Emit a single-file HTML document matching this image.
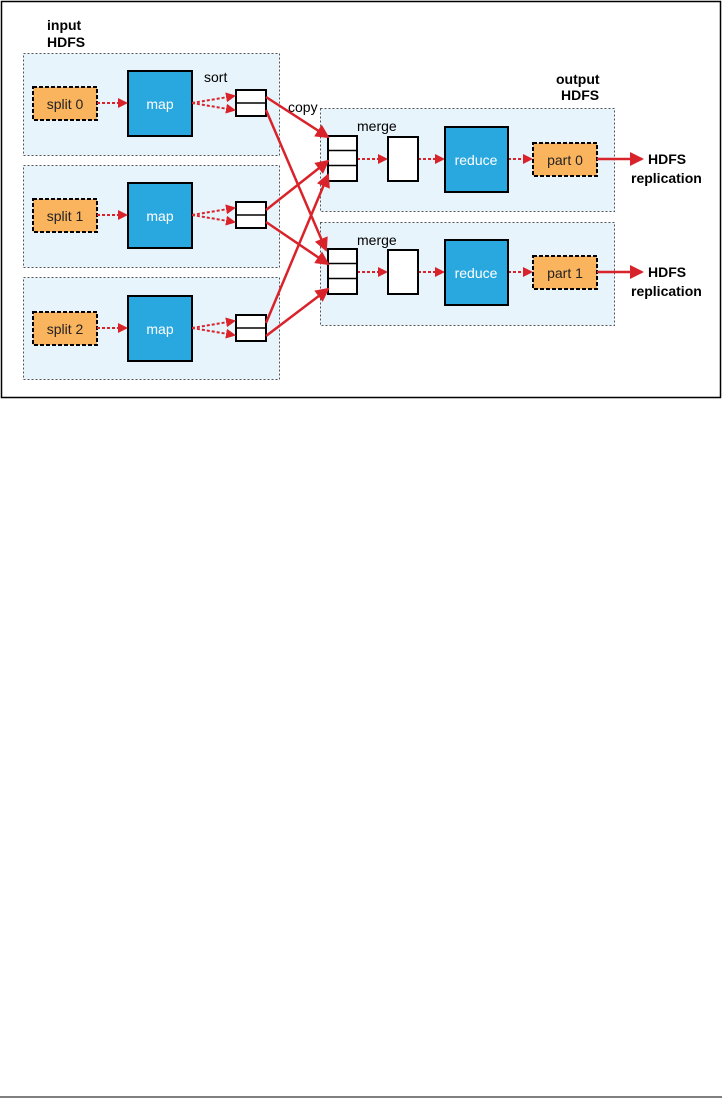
<!DOCTYPE html>
<html><head><style>
body{margin:0;background:#fff;width:722px;height:1106px;overflow:hidden}
svg text{font-family:"Liberation Sans",sans-serif}
</style></head><body>
<svg width="722" height="1106" viewBox="0 0 722 1106" xmlns="http://www.w3.org/2000/svg">
<defs>
<marker id="ah" markerWidth="10" markerHeight="10" refX="8" refY="5" orient="auto" markerUnits="userSpaceOnUse" viewBox="0 0 10 10"><path d="M0,0 L10,5 L0,10 z" fill="#d9232a"/></marker>
<marker id="ab" markerWidth="14" markerHeight="14" refX="12" refY="7" orient="auto" markerUnits="userSpaceOnUse" viewBox="0 0 14 14"><path d="M0,0 L14,7 L0,14 z" fill="#d9232a"/></marker>
</defs>
<rect x="1.5" y="1.5" width="719" height="396" fill="none" stroke="#000" stroke-width="1.5"/>
<line x1="0" y1="1097" x2="722" y2="1097" stroke="#000" stroke-width="1"/>
<g font-weight="bold" font-size="14" fill="#000">
<text x="47" y="30">input</text><text x="47" y="47">HDFS</text>
<text x="556" y="84">output</text><text x="561" y="100">HDFS</text>
</g>
<g fill="#e8f4fb" stroke="#555" stroke-dasharray="2,2" stroke-width="1">
<rect x="23.5" y="53.5" width="256" height="102"/>
<rect x="23.5" y="165.5" width="256" height="102"/>
<rect x="23.5" y="277.5" width="256" height="102"/>
<rect x="320.5" y="108.5" width="294" height="103"/>
<rect x="320.5" y="222.5" width="294" height="103"/>
</g>
<g font-size="14" fill="#000">
<text x="204" y="82">sort</text><text x="288" y="112">copy</text>
<text x="357" y="131">merge</text><text x="357" y="245">merge</text>
</g>
<!-- map rows -->
<g id="r0">
<rect x="33" y="87" width="64" height="33" fill="#fbb45e" stroke="#000" stroke-width="2" stroke-dasharray="4,2"/>
<text x="65" y="109" font-size="14" text-anchor="middle" fill="#222">split 0</text>
<rect x="128" y="71" width="64" height="65" fill="#29a8e0" stroke="#000" stroke-width="2"/>
<text x="160" y="109" font-size="14" text-anchor="middle" fill="#fff">map</text>
<rect x="236" y="90" width="30" height="26" fill="#fff" stroke="#000" stroke-width="2"/>
<line x1="236" y1="103" x2="266" y2="103" stroke="#000" stroke-width="1.5"/>
</g>
<g transform="translate(0,112)">
<rect x="33" y="87" width="64" height="33" fill="#fbb45e" stroke="#000" stroke-width="2" stroke-dasharray="4,2"/>
<text x="65" y="109" font-size="14" text-anchor="middle" fill="#222">split 1</text>
<rect x="128" y="71" width="64" height="65" fill="#29a8e0" stroke="#000" stroke-width="2"/>
<text x="160" y="109" font-size="14" text-anchor="middle" fill="#fff">map</text>
<rect x="236" y="90" width="30" height="26" fill="#fff" stroke="#000" stroke-width="2"/>
<line x1="236" y1="103" x2="266" y2="103" stroke="#000" stroke-width="1.5"/>
</g>
<g transform="translate(0,225)">
<rect x="33" y="87" width="64" height="33" fill="#fbb45e" stroke="#000" stroke-width="2" stroke-dasharray="4,2"/>
<text x="65" y="109" font-size="14" text-anchor="middle" fill="#222">split 2</text>
<rect x="128" y="71" width="64" height="65" fill="#29a8e0" stroke="#000" stroke-width="2"/>
<text x="160" y="109" font-size="14" text-anchor="middle" fill="#fff">map</text>
<rect x="236" y="90" width="30" height="26" fill="#fff" stroke="#000" stroke-width="2"/>
<line x1="236" y1="103" x2="266" y2="103" stroke="#000" stroke-width="1.5"/>
</g>
<g stroke="#d9232a" stroke-width="2" stroke-dasharray="3,2" fill="none" marker-end="url(#ah)">
<line x1="97" y1="103" x2="126" y2="103"/><line x1="192" y1="103" x2="234" y2="96"/><line x1="192" y1="103" x2="234" y2="110"/>
<line x1="97" y1="215" x2="126" y2="215"/><line x1="192" y1="215" x2="234" y2="208"/><line x1="192" y1="215" x2="234" y2="222"/>
<line x1="97" y1="328" x2="126" y2="328"/><line x1="192" y1="328" x2="234" y2="321"/><line x1="192" y1="328" x2="234" y2="335"/>
<line x1="357" y1="159" x2="386" y2="159"/><line x1="418" y1="159" x2="443" y2="159"/><line x1="508" y1="159" x2="531" y2="159"/>
<line x1="357" y1="272" x2="386" y2="272"/><line x1="418" y1="272" x2="443" y2="272"/><line x1="508" y1="272" x2="531" y2="272"/>
</g>
<!-- reduce rows -->
<g>
<rect x="328" y="136" width="29" height="45" fill="#fff" stroke="#000" stroke-width="2"/>
<line x1="328" y1="150.5" x2="357" y2="150.5" stroke="#000" stroke-width="1.5"/><line x1="328" y1="165.5" x2="357" y2="165.5" stroke="#000" stroke-width="1.5"/>
<rect x="388" y="137" width="30" height="44" fill="#fff" stroke="#000" stroke-width="2"/>
<rect x="445" y="127" width="63" height="65" fill="#29a8e0" stroke="#000" stroke-width="2"/>
<text x="476" y="165" font-size="14" text-anchor="middle" fill="#fff">reduce</text>
<rect x="533" y="143" width="64" height="33" fill="#fbb45e" stroke="#000" stroke-width="2" stroke-dasharray="4,2"/>
<text x="565" y="165" font-size="14" text-anchor="middle" fill="#222">part 0</text>
</g>
<g transform="translate(0,113)">
<rect x="328" y="136" width="29" height="45" fill="#fff" stroke="#000" stroke-width="2"/>
<line x1="328" y1="150.5" x2="357" y2="150.5" stroke="#000" stroke-width="1.5"/><line x1="328" y1="165.5" x2="357" y2="165.5" stroke="#000" stroke-width="1.5"/>
<rect x="388" y="137" width="30" height="44" fill="#fff" stroke="#000" stroke-width="2"/>
<rect x="445" y="127" width="63" height="65" fill="#29a8e0" stroke="#000" stroke-width="2"/>
<text x="476" y="165" font-size="14" text-anchor="middle" fill="#fff">reduce</text>
<rect x="533" y="143" width="64" height="33" fill="#fbb45e" stroke="#000" stroke-width="2" stroke-dasharray="4,2"/>
<text x="565" y="165" font-size="14" text-anchor="middle" fill="#222">part 1</text>
</g>
<g stroke="#d9232a" stroke-width="2.5" fill="none" marker-end="url(#ab)">
<line x1="266" y1="97" x2="328" y2="137"/>
<line x1="266" y1="110" x2="326" y2="250"/>
<line x1="266" y1="210" x2="328" y2="161"/>
<line x1="266" y1="222" x2="328" y2="264"/>
<line x1="266" y1="323" x2="328" y2="175"/>
<line x1="266" y1="336" x2="328" y2="289"/>
<line x1="597" y1="159" x2="642" y2="159"/>
<line x1="597" y1="272" x2="642" y2="272"/>
</g>
<g font-weight="bold" font-size="14" fill="#000">
<text x="648" y="164">HDFS</text><text x="631" y="183">replication</text>
<text x="648" y="277">HDFS</text><text x="631" y="296">replication</text>
</g>
</svg>
</body></html>
